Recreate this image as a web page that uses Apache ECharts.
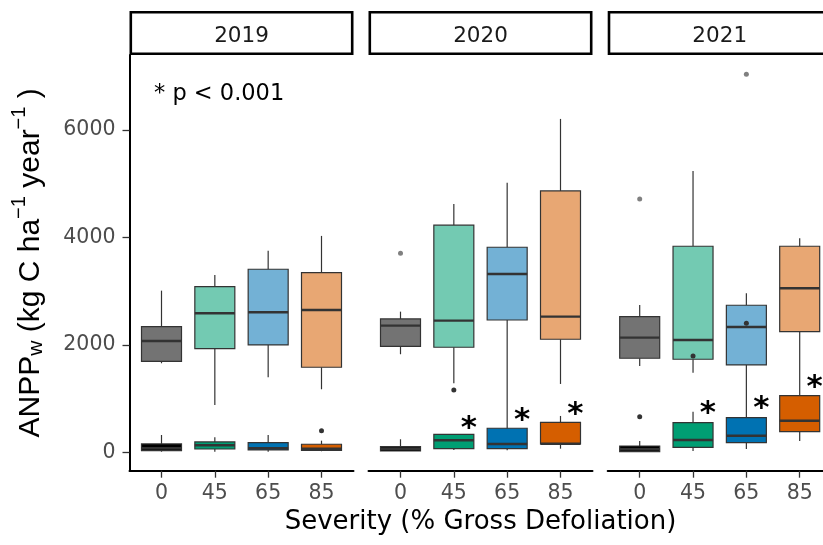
<!DOCTYPE html>
<html><head><meta charset="utf-8">
<script src="https://cdn.jsdelivr.net/npm/echarts@6/dist/echarts.min.js"></script>
<style>html,body{margin:0;padding:0;background:#fff}#c{width:823px;height:545px}</style>
</head><body><div id="c"></div>
<script>
// ---------------- data ----------------
const years = ['2019', '2020', '2021'];
const severity = ['0', '45', '65', '85'];
const yTicks = [0, 2000, 4000, 6000];
// five-number summaries per severity class: [min, q1, median, q3, max]
const upper2019 = [[1657,1694,2072,2339,3009],[881,1929,2588,3084,3301],[1396,1998,2607,3407,3754],[1173,1583,2650,3344,4028]];
const lower2019 = [[11,30,74,155,322],[11,61,130,192,279],[11,43,74,179,322],[19,37,67,149,216]];
const upper2020 = [[1825,1973,2358,2482,2618],[1285,1955,2451,4227,4623],[300,2463,3320,3817,5020],[1272,2104,2525,4866,6206]];
const lower2020 = [[24,24,67,104,242],[43,67,223,335,335],[37,67,155,447,447],[67,155,158,558,676]];
const upper2021 = [[1607,1750,2134,2526,2743],[1482,1732,2091,3836,5238],[600,1626,2333,2737,2961],[1000,2246,3054,3836,3984]];
const lower2021 = [[11,11,56,117,210],[24,93,229,551,756],[61,179,309,644,644],[210,384,588,1054,1054]];
// outliers: [severity index, value]
const upperOut2019 = [];
const lowerOut2019 = [[3, 400]];
const upperOut2020 = [[0, 3706]];
const lowerOut2020 = [[1, 1160]];
const upperOut2021 = [[0, 4717], [2, 7038]];
const lowerOut2021 = [[0, 663], [1, 1793], [2, 2402]];
// significance stars: [severity index, value]
const stars2019 = [];
const stars2020 = [[1, 570], [2, 713], [3, 819]];
const stars2021 = [[1, 838], [2, 942], [3, 1333]];

const upperColors = ['#737373', '#73CAB2', '#73B1D5', '#E8A773'];
const lowerColors = ['#000000', '#009E73', '#0072B2', '#D55E00'];

// ---------------- layout ----------------
const L = [129.5, 368.5, 607.7];
const PW = 224, TOP = 55, PH = 415.7;
const BOX_W = 0.75, STAR_DX = 0.28;
const HFONT = 'DejaVu Sans';

const upperAll = [upper2019, upper2020, upper2021];
const lowerAll = [lower2019, lower2020, lower2021];
const upperOutAll = [upperOut2019, upperOut2020, upperOut2021];
const lowerOutAll = [lowerOut2019, lowerOut2020, lowerOut2021];
const starsAll = [stars2019, stars2020, stars2021];

function boxRenderer(colors) {
  return function (params, api) {
    const c = api.value(0);
    const lo = api.coord([c, api.value(1)]);
    const q1 = api.coord([c, api.value(2)]);
    const md = api.coord([c, api.value(3)]);
    const q3 = api.coord([c, api.value(4)]);
    const hi = api.coord([c, api.value(5)]);
    const half = api.size([BOX_W, 0])[0] / 2;
    const x = lo[0];
    const st = { stroke: '#333333', lineWidth: 1.2 };
    return { type: 'group', children: [
      { type: 'line', shape: { x1: x, y1: hi[1], x2: x, y2: q3[1] }, style: st },
      { type: 'line', shape: { x1: x, y1: q1[1], x2: x, y2: lo[1] }, style: st },
      { type: 'rect', shape: { x: x - half, y: q3[1], width: 2 * half, height: q1[1] - q3[1] },
        style: { fill: colors[c], stroke: '#333333', lineWidth: 1.2 } },
      { type: 'line', shape: { x1: x - half, y1: md[1], x2: x + half, y2: md[1] },
        style: { stroke: '#333333', lineWidth: 2.4 } }
    ]};
  };
}
function starRenderer(params, api) {
  const p = api.coord([api.value(0) + STAR_DX, api.value(1)]);
  return { type: 'text', x: p[0], y: p[1] + 7,
    style: { text: '*', font: 'bold 31px "DejaVu Sans"', fill: '#000', align: 'center', verticalAlign: 'middle' } };
}

const grids = [], xAxes = [], yAxes = [], series = [];
for (let i = 0; i < 3; i++) {
  grids.push({ left: L[i], top: TOP, width: PW, height: PH, outerBoundsMode: 'none' });
  xAxes.push({
    type: 'value', gridIndex: i, min: -0.6, max: 3.6,
    axisLine: { show: true, onZero: false, lineStyle: { color: '#000', width: 2 } },
    axisTick: { show: true, customValues: [0, 1, 2, 3], length: 7, lineStyle: { color: '#333', width: 1.3 } },
    axisLabel: { show: true, customValues: [0, 1, 2, 3], formatter: v => severity[v],
      color: '#4D4D4D', fontSize: 20.5, fontFamily: HFONT, margin: 12 },
    splitLine: { show: false },
    name: i === 1 ? 'Severity (% Gross Defoliation)' : '',
    nameLocation: 'middle', nameGap: 39,
    nameTextStyle: { fontSize: 26, fontFamily: HFONT, color: '#000' }
  });
  yAxes.push({
    type: 'value', gridIndex: i, min: -343, max: 7396,
    show: i === 0,
    axisLine: { show: true, onZero: false, lineStyle: { color: '#000', width: 2 } },
    axisTick: { show: true, customValues: yTicks, length: 7, lineStyle: { color: '#333', width: 1.3 } },
    axisLabel: { show: true, customValues: yTicks, formatter: v => String(v),
      color: '#4D4D4D', fontSize: 20.5, fontFamily: HFONT, margin: 14 },
    splitLine: { show: false },
    name: i === 0 ? '{m|ANPP}{sub|w}{m| (kg C ha}{sup|\u22121}{m| year}{sup|\u22121}{m| )}' : '',
    nameLocation: 'middle', nameRotate: 90, nameGap: 78,
    nameTextStyle: { rich: {
      m: { fontSize: 30, fontFamily: 'Liberation Sans', color: '#000' },
      sub: { fontSize: 21, fontFamily: 'Liberation Sans', color: '#000', padding: [12, 0, 0, 0] },
      sup: { fontSize: 20, fontFamily: 'Liberation Sans', color: '#000', padding: [0, 0, 22, 0] }
    } }
  });
}
for (let i = 0; i < 3; i++) {
  series.push({ type: 'custom', xAxisIndex: i, yAxisIndex: i, renderItem: boxRenderer(upperColors),
    data: upperAll[i].map((d, k) => [k].concat(d)), encode: { x: 0, y: [1, 2, 3, 4, 5] }, z: 2 });
}
for (let i = 0; i < 3; i++) {
  series.push({ type: 'custom', xAxisIndex: i, yAxisIndex: i, renderItem: boxRenderer(lowerColors),
    data: lowerAll[i].map((d, k) => [k].concat(d)), encode: { x: 0, y: [1, 2, 3, 4, 5] }, z: 3 });
}
for (let i = 0; i < 3; i++) {
  series.push({ type: 'scatter', xAxisIndex: i, yAxisIndex: i, data: upperOutAll[i], symbolSize: 5,
    itemStyle: { color: '#808080', opacity: 1 }, z: 4 });
  series.push({ type: 'scatter', xAxisIndex: i, yAxisIndex: i, data: lowerOutAll[i], symbolSize: 5,
    itemStyle: { color: '#333333', opacity: 1 }, z: 5 });
  series.push({ type: 'custom', xAxisIndex: i, yAxisIndex: i, renderItem: starRenderer,
    data: starsAll[i], encode: { x: 0, y: 1 }, z: 6 });
}

const graphic = [];
for (let i = 0; i < 3; i++) {
  graphic.push({ type: 'rect', z: 10, shape: { x: L[i] + 1.3, y: 12.3, width: PW - 2.6, height: 41.4 },
    style: { fill: '#fff', stroke: '#000', lineWidth: 2.6 } });
  graphic.push({ type: 'text', z: 11, x: L[i] + PW / 2, y: 36,
    style: { text: years[i], font: '21.5px "DejaVu Sans"', fill: '#1A1A1A', align: 'center', verticalAlign: 'middle' } });
}
graphic.push({ type: 'text', z: 11, x: 154, y: 94,
  style: { text: '* p < 0.001', font: '22.5px "DejaVu Sans"', fill: '#000', align: 'left', verticalAlign: 'middle' } });

const chart = echarts.init(document.getElementById('c'));
chart.setOption({
  animation: false,
  backgroundColor: '#fff',
  grid: grids, xAxis: xAxes, yAxis: yAxes, series: series, graphic: graphic
});
</script></body></html>
